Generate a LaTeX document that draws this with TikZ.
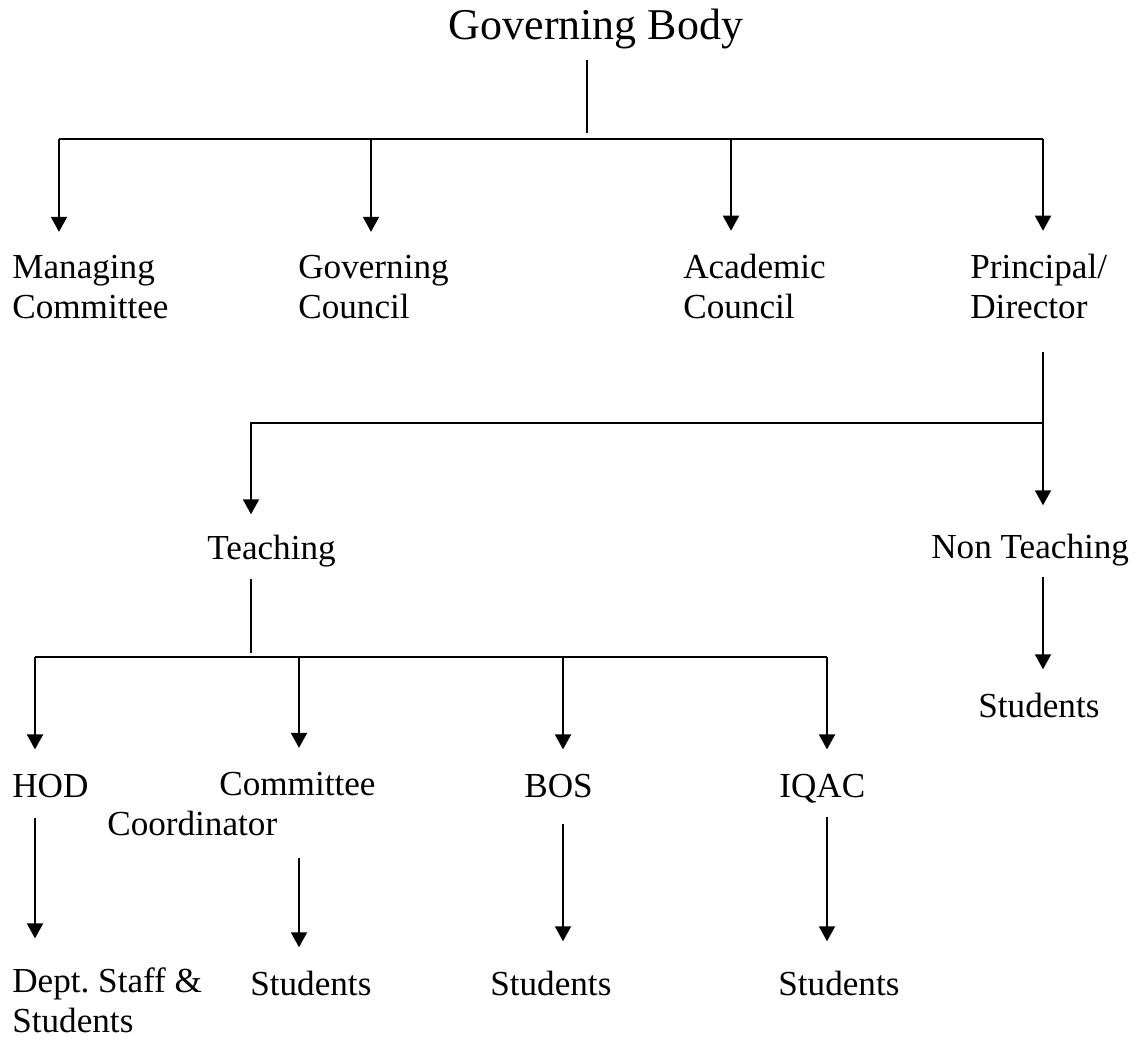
\documentclass[tikz,border=0pt]{standalone}
\usepackage{fontspec}
\setmainfont{Liberation Serif}
\usetikzlibrary{arrows.meta,calc}
\tikzset{
  every node/.style={font=\fontsize{20}{22.5}\selectfont, inner sep=0pt},
  lbl/.style={anchor=base west, align=left},
  title/.style={anchor=base, font=\fontsize{25}{29}\selectfont},
  link/.style={draw=black, line width=1.1pt},
  arr/.style={link, -{Triangle[width=0.32cm,length=0.3cm]}},
}
\frenchspacing
\begin{document}
\begin{tikzpicture}[x=0.2mm, y=-0.2mm]
  \useasboundingbox (0,0) rectangle (1135,1038);

  % labels (base = last line)
  \node[title] (gb) at (596,40) {Governing Body};
  \node[lbl] (mc) at (12,318) {Managing\\Committee};
  \node[lbl] (gc) at (298,318) {Governing\\Council};
  \node[lbl] (ac) at (683,318) {Academic\\Council};
  \node[lbl] (pd) at (970,318) {Principal/\\Director};
  \node[lbl] (te) at (207,559) {Teaching};
  \node[lbl] (nt) at (931,558) {Non Teaching};
  \node[lbl] (hod) at (12,797) {HOD};
  \node[lbl] (cc) at (107,835) {\hspace*{2.24cm}Committee\\Coordinator};
  \node[lbl] (bos) at (524,797) {BOS};
  \node[lbl] (iq) at (779,797) {IQAC};
  \node[lbl] (ds) at (12,1032) {Dept. Staff \&\\Students};
  \node[lbl] (s1) at (250,995) {Students};
  \node[lbl] (s2) at (490,995) {Students};
  \node[lbl] (s3) at (778,995) {Students};
  \node[lbl] (s4) at (978,717) {Students};

  % governing body to the four bodies
  \coordinate (b0) at (587,139);
  \coordinate (b1) at (59,139);
  \coordinate (b2) at (371,139);
  \coordinate (b3) at (731,139);
  \coordinate (b4) at (1043,139);
  \draw[link, shorten <=2mm] (b0 |- gb.south) -- ($(b0)+(0,-6)$);
  \draw[link] (b1) -- (b4);
  \foreach \b/\n in {b1/mc, b2/gc, b3/ac, b4/pd}
    \draw[arr, shorten >=4.6mm] (\b) -- (\b |- \n.north);

  % principal to staff
  \coordinate (j1) at (1043,423);
  \coordinate (j2) at (251,423);
  \draw[arr, shorten <=6.6mm, shorten >=5.6mm] (j1 |- pd.south) -- (j1 |- nt.north);
  \draw[arr, shorten >=4mm] (j1) -- (j2) -- (j2 |- te.north);
  \draw[arr, shorten <=2.2mm, shorten >=4.6mm] (j1 |- nt.south) -- (j1 |- s4.north);

  % teaching branches
  \coordinate (t0) at (251,657);
  \coordinate (t1) at (35,657);
  \coordinate (t2) at (299,657);
  \coordinate (t3) at (563,657);
  \coordinate (t4) at (827,657);
  \draw[link, shorten <=2.4mm] (t0 |- te.south) -- ($(t0)+(0,-4)$);
  \draw[link] (t1) -- (t4);
  \foreach \t/\n in {t1/hod, t2/cc, t3/bos, t4/iq}
    \draw[arr, shorten >=4.8mm] (\t) -- (\t |- \n.north);

  % down to students
  \draw[arr, shorten <=4mm, shorten >=5.8mm] (t1 |- hod.south) -- (t1 |- ds.north);
  \draw[arr, shorten <=4.4mm, shorten >=4.6mm] (t2 |- cc.south) -- (t2 |- s1.north);
  \draw[arr, shorten <=5.2mm, shorten >=5.8mm] (t3 |- bos.south) -- (t3 |- s2.north);
  \draw[arr, shorten <=2.8mm, shorten >=5.8mm] (t4 |- iq.south) -- (t4 |- s3.north);
\end{tikzpicture}
\end{document}
